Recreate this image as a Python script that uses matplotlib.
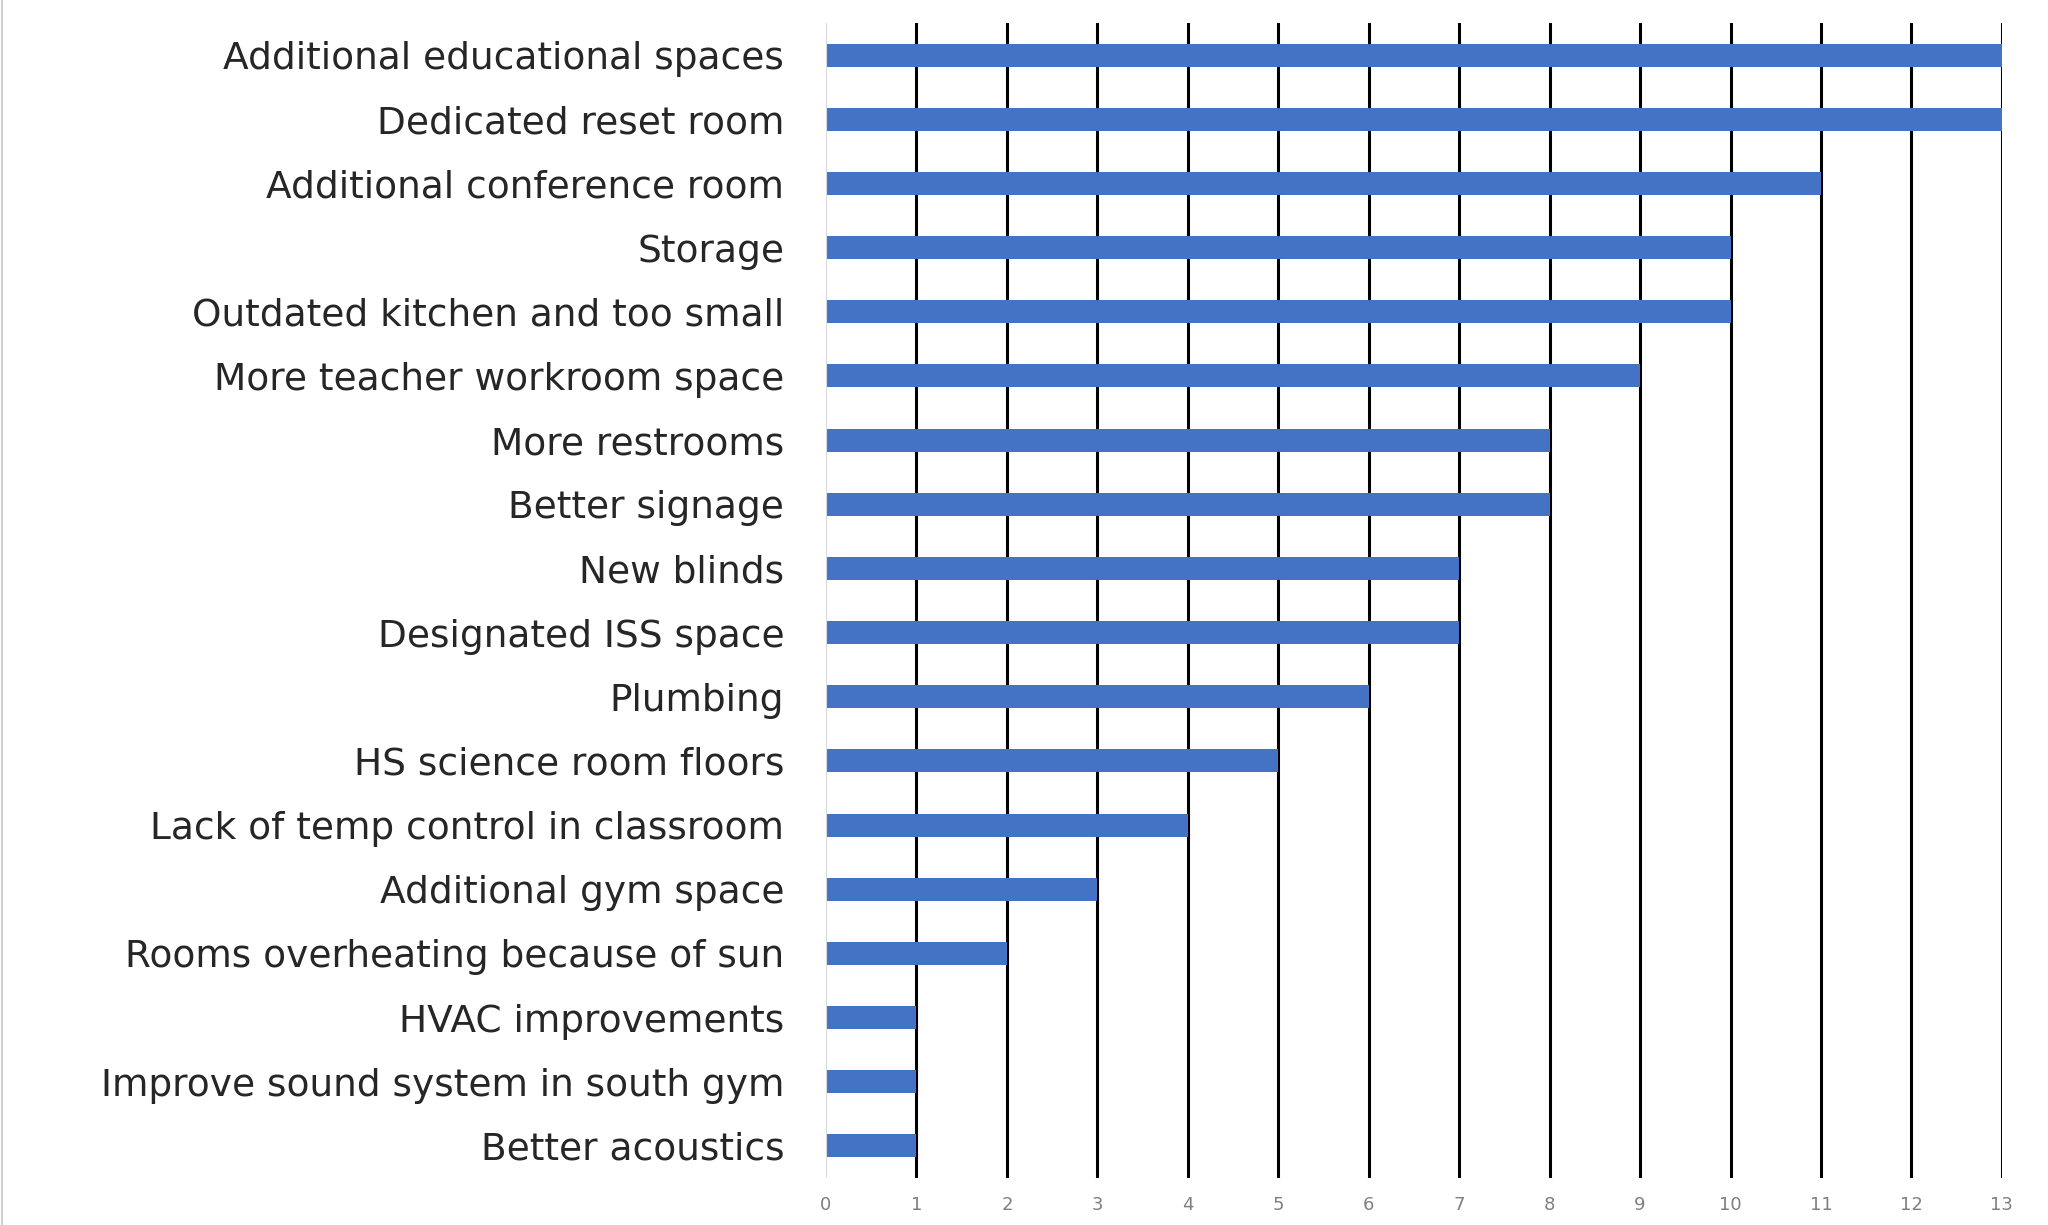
import matplotlib.pyplot as plt
from matplotlib.lines import Line2D

# categories top -> bottom as in the chart
categories = [
    "Additional educational spaces",
    "Dedicated reset room",
    "Additional conference room",
    "Storage",
    "Outdated kitchen and too small",
    "More teacher workroom space",
    "More restrooms",
    "Better signage",
    "New blinds",
    "Designated ISS space",
    "Plumbing",
    "HS science room floors",
    "Lack of temp control in classroom",
    "Additional gym space",
    "Rooms overheating because of sun",
    "HVAC improvements",
    "Improve sound system in south gym",
    "Better acoustics",
]
counts = [13, 13, 11, 10, 10, 9, 8, 8, 7, 7, 6, 5, 4, 3, 2, 1, 1, 1]
x_ticks = list(range(0, 14))

plt.rcParams["font.family"] = ["DejaVu Sans"]

fig = plt.figure(figsize=(20.48, 12.25), dpi=100)
ax = fig.add_axes([0.4033, 0.0384, 0.5742, 0.9428])

ypos = list(range(len(categories)))
ax.barh(ypos, counts, height=0.36, color="#4472C4", zorder=3)

ax.set_ylim(len(categories) - 0.5, -0.5)
ax.set_xlim(0, 13)
ax.set_yticks(ypos)
ax.set_yticklabels(categories, fontsize=27, color="#262626")
ax.set_xticks(x_ticks)
ax.set_xticklabels([str(t) for t in x_ticks], fontsize=13, color="#7f7f7f")

ax.tick_params(axis="y", length=0, pad=30)
ax.tick_params(axis="x", length=0, pad=13)

# vertical gridlines, black; zero line light grey
for t in x_ticks[1:]:
    ax.axvline(t, color="black", lw=2.2, zorder=2)
ax.axvline(0, color="#d9d9d9", lw=1.5, zorder=4)

for spine in ax.spines.values():
    spine.set_visible(False)

# thin grey border line at the left edge of the image
fig.add_artist(Line2D([0.001, 0.001], [0, 1], color="#d0d0d0", lw=1.5,
                      transform=fig.transFigure))

fig.savefig("out.png", dpi=100)
